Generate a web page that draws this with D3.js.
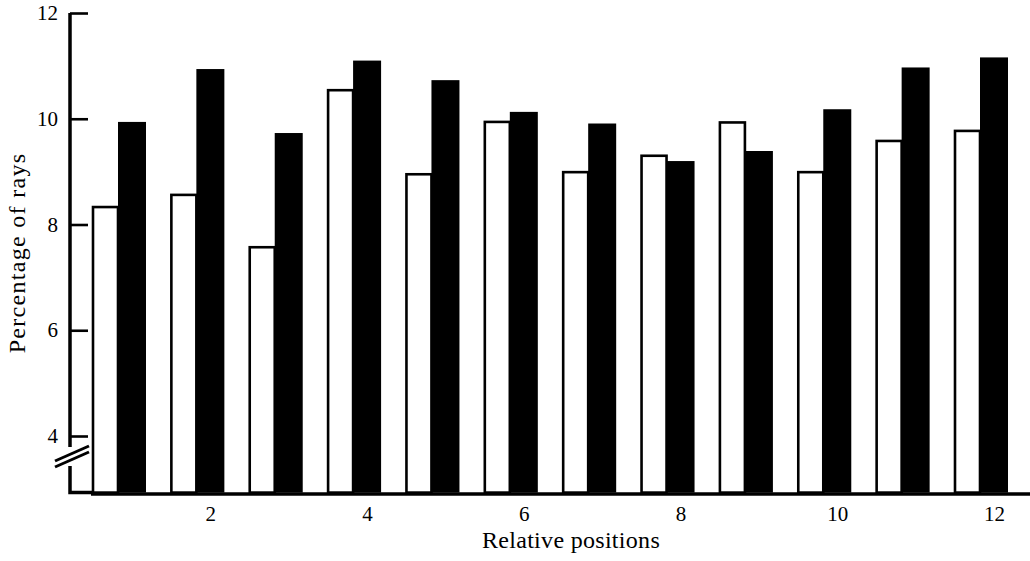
<!DOCTYPE html>
<html>
<head>
    <script src="https://d3js.org/d3.v7.min.js"></script>
    <style>
        body { margin: 0; background: #fff; }
        text { font-family: "Liberation Serif", "DejaVu Serif", serif; fill: #000; }
    </style>
</head>
<body>
    <div id="chart"></div>

    <script>
        // Values (percentage of rays per relative position)
        var positions = [1, 2, 3, 4, 5, 6, 7, 8, 9, 10, 11, 12];
        var whiteValues = [8.33, 8.56, 7.57, 10.54, 8.95, 9.94, 8.99, 9.30, 9.93, 8.99, 9.58, 9.77];
        var blackValues = [9.94, 10.94, 9.73, 11.10, 10.73, 10.13, 9.91, 9.20, 9.39, 10.18, 10.97, 11.16];
        var xTicks = [2, 4, 6, 8, 10, 12];
        var yTicks = [4, 6, 8, 10, 12];

        var width = 1030, height = 561;
        var axisX = 70;          // left axis position
        var yFloor = 2.93;       // value where the (broken) axis meets the baseline
        var blackW = 28, whiteW = 25;

        var svg = d3.select("#chart")
            .append("svg")
            .attr("width", width)
            .attr("height", height);

        // x gives the centre of the black bar of each pair
        var x = d3.scaleLinear()
            .domain([1, 12])
            .range([132, 994]);

        var y = d3.scaleLinear()
            .domain([4, 12])
            .range([436, 13]);

        var base = y(yFloor);

        // white (outlined) bars
        svg.selectAll(".white")
            .data(positions)
            .enter().append("rect")
            .attr("class", "white")
            .attr("x", function(d) { return x(d) - blackW / 2 - whiteW; })
            .attr("width", whiteW)
            .attr("y", function(d, i) { return y(whiteValues[i]); })
            .attr("height", function(d, i) { return base - y(whiteValues[i]); })
            .attr("fill", "#fff")
            .attr("stroke", "#000")
            .attr("stroke-width", 2.6);

        // black bars
        svg.selectAll(".black")
            .data(positions)
            .enter().append("rect")
            .attr("class", "black")
            .attr("x", function(d) { return x(d) - blackW / 2; })
            .attr("width", blackW)
            .attr("y", function(d, i) { return y(blackValues[i]); })
            .attr("height", function(d, i) { return base - y(blackValues[i]); })
            .attr("fill", "#000");

        // y axis: ticks point inward, domain line drawn by hand with a break
        var yAxis = svg.append("g")
            .attr("transform", "translate(" + axisX + ",0)")
            .call(d3.axisLeft(y).tickValues(yTicks).tickSizeInner(-18).tickSizeOuter(0).tickPadding(12));
        yAxis.select(".domain").remove();
        yAxis.selectAll(".tick line").attr("stroke", "#000").attr("stroke-width", 2.6);
        yAxis.selectAll(".tick text").style("font-size", "21px");

        svg.append("path")
            .attr("d", "M" + axisX + "," + y(12) + "V" + (y(4) + 11) +
                       "M" + axisX + "," + (y(4) + 30) + "V" + base + "H" + (axisX + 22))
            .attr("fill", "none")
            .attr("stroke", "#000")
            .attr("stroke-width", 3.5);

        // break marks
        [0, 6].forEach(function(off) {
            svg.append("line")
                .attr("x1", axisX - 15).attr("y1", y(4) + 25 + off)
                .attr("x2", axisX + 19).attr("y2", y(4) + 10 + off)
                .attr("stroke", "#000")
                .attr("stroke-width", 3);
        });

        // x axis
        var xAxis = svg.append("g")
            .attr("transform", "translate(0," + (base + 1.5) + ")")
            .call(d3.axisBottom(x).tickValues(xTicks).tickSize(0).tickPadding(12));
        xAxis.select(".domain").remove();
        xAxis.selectAll(".tick text").style("font-size", "21px");

        svg.append("line")
            .attr("x1", axisX + 21).attr("x2", width)
            .attr("y1", base + 1.5).attr("y2", base + 1.5)
            .attr("stroke", "#000")
            .attr("stroke-width", 3.5);

        // axis titles
        svg.append("text")
            .attr("x", 571)
            .attr("y", 548)
            .attr("text-anchor", "middle")
            .style("font-size", "24px")
            .style("letter-spacing", "0.3px")
            .text("Relative positions");

        svg.append("text")
            .attr("transform", "translate(25,253) rotate(-90)")
            .attr("text-anchor", "middle")
            .style("font-size", "24px")
            .style("letter-spacing", "1.3px")
            .text("Percentage of rays");
    </script>
</body>
</html>
